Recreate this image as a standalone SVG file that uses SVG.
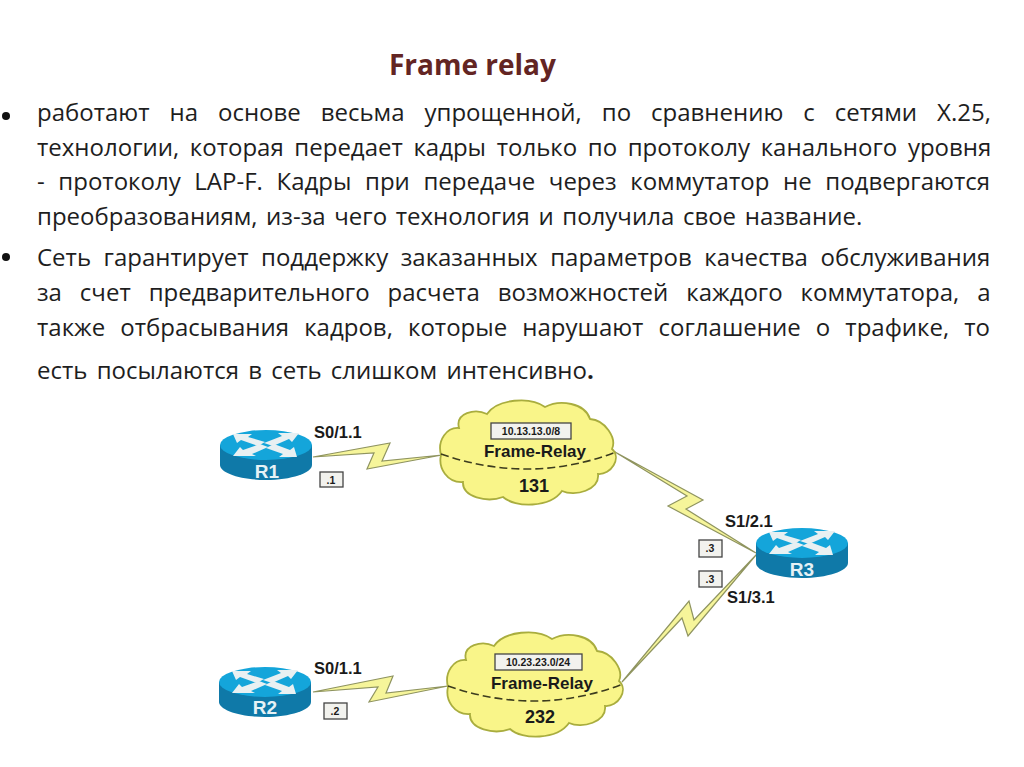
<svg xmlns="http://www.w3.org/2000/svg" xmlns:xlink="http://www.w3.org/1999/xlink" width="1024" height="767" viewBox="0 0 1024 767">
<style>
.t{font-family:"Open Sans","Noto Sans","Liberation Sans",sans-serif;font-size:24px;fill:#1e1e1e}
.h{font-family:"Open Sans","Noto Sans","Liberation Sans",sans-serif;font-size:28px;font-weight:700;fill:#632523}
.l{font-family:"Liberation Sans",Arial,sans-serif;font-weight:700;fill:#1a1a1a}
.bolt{fill:#f6f59a;stroke:#8f9460;stroke-width:1.2;stroke-linejoin:miter}
.cloud{fill:#f9f589;stroke:#a9ad3e;stroke-width:1.8}
.dash{fill:none;stroke:#3c3c1e;stroke-width:1.6;stroke-dasharray:8 4}
.box{fill:#f2f2ee;stroke:#444;stroke-width:1.3}
.top{fill:#14a5da}.side{fill:#0f79a8}
.ar{fill:#e8f0f2}
.rn{font-family:"Liberation Sans",Arial,sans-serif;font-weight:700;font-size:19px;fill:#e6f2f6;text-anchor:middle}
</style>
<defs>
<g id="rt">
<path class="side" d="M-46 0V20C-46 28-25 35 0 35S46 28 46 20V0Z"/>
<ellipse class="top" cx="0" cy="0" rx="46" ry="15"/>
<path class="ar" d="M-33-11L-14-11L-18-8L-1-3L-8 1L-25-5L-29-2Z"/>
<path class="ar" d="M33-12L26-3L23-6L7 1L-2-2L16-9L12-12Z"/>
<path class="ar" d="M-33 11L-26 2L-23 5L-6-1L2 2L-14 9L-10 11Z"/>
<path class="ar" d="M31 12L13 12L17 9L0 3L8-1L24 5L28 2Z"/>
</g>
<path id="cl" class="cloud" d="M441 455C437 440 447 427 459 428C455 413 475 408 487 414C497 399 530 396 545 407C560 399 585 403 590 419C605 420 617 438 612 449C622 458 611 475 598 474C600 490 575 497 562 491C550 508 515 508 503 497C487 503 462 497 463 482C447 483 438 468 441 455Z"/>
</defs>
<g id="text">
<text class="h" x="389" y="75">Frame relay</text>
<circle cx="6" cy="116" r="4" fill="#111"/>
<circle cx="6" cy="257" r="4" fill="#111"/>
<text class="t" x="37" y="121" word-spacing="13.7">работают на основе весьма упрощенной, по сравнению с сетями X.25,</text>
<text class="t" x="37" y="156" word-spacing="4.4">технологии, которая передает кадры только по протоколу канального уровня</text>
<text class="t" x="37" y="190" word-spacing="7.4">- протоколу LAP-F. Кадры при передаче через коммутатор не подвергаются</text>
<text class="t" x="37" y="225" word-spacing="2.4">преобразованиям, из-за чего технология и получила свое название.</text>
<text class="t" x="37" y="266" word-spacing="6.3">Сеть гарантирует поддержку заказанных параметров качества обслуживания</text>
<text class="t" x="37" y="301" word-spacing="11.7">за счет предварительного расчета возможностей каждого коммутатора, а</text>
<text class="t" x="37" y="336" word-spacing="8.9">также отбрасывания кадров, которые нарушают соглашение о трафике, то</text>
<text class="t" x="37" y="379" word-spacing="3">есть посылаются в сеть слишком интенсивно<tspan font-weight="700">.</tspan></text>
</g>
<g id="connectors">
<polygon class="bolt" points="313,457 390,443 382,461 442,455 367,469 374,453"/>
<polygon class="bolt" points="313,692 393,676 386,693 448,686 369,702 378,687"/>
<polygon class="bolt" points="615,452 703,500 686,509 756,553 668,506 687,496"/>
<polygon class="bolt" points="622,682 689,601 694,620 756,555 688,636 682,618"/>
</g>
<g id="R1"><use xlink:href="#rt" href="#rt" x="266" y="445"/><text class="rn" x="267" y="478">R1</text></g>
<g id="R2"><use xlink:href="#rt" href="#rt" x="265" y="682"/><text class="rn" x="265" y="714">R2</text></g>
<g id="R3"><use xlink:href="#rt" href="#rt" x="802" y="543"/><text class="rn" x="802" y="576">R3</text></g>
<g id="cloud131">
<use xlink:href="#cl" href="#cl"/>
<path class="dash" d="M441 454Q530 485 616 452"/>
<rect class="box" x="491" y="423" width="80" height="16"/>
<text class="l" x="531" y="435" font-size="10.5" text-anchor="middle">10.13.13.0/8</text>
<text class="l" x="535" y="457" font-size="17" text-anchor="middle">Frame-Relay</text>
<text class="l" x="534" y="492" font-size="18" text-anchor="middle">131</text>
</g>
<g id="cloud232">
<use xlink:href="#cl" href="#cl" x="7" y="232"/>
<path class="dash" d="M448 686Q537 717 623 684"/>
<rect class="box" x="495" y="654" width="87" height="16"/>
<text class="l" x="538" y="666" font-size="10.5" text-anchor="middle">10.23.23.0/24</text>
<text class="l" x="542" y="689" font-size="17" text-anchor="middle">Frame-Relay</text>
<text class="l" x="540" y="723" font-size="18" text-anchor="middle">232</text>
</g>
<g id="labels">
<text class="l" x="314" y="438" font-size="16.5">S0/1.1</text>
<text class="l" x="314" y="674" font-size="16.5">S0/1.1</text>
<text class="l" x="725" y="527" font-size="16.5">S1/2.1</text>
<text class="l" x="727" y="603" font-size="16.5">S1/3.1</text>
<rect class="box" x="320" y="472" width="23" height="15"/><text class="l" x="331" y="484" font-size="10.5" text-anchor="middle">.1</text>
<rect class="box" x="324" y="703" width="23" height="16"/><text class="l" x="335" y="715" font-size="10.5" text-anchor="middle">.2</text>
<rect class="box" x="699" y="540" width="23" height="17"/><text class="l" x="710" y="552" font-size="10.5" text-anchor="middle">.3</text>
<rect class="box" x="699" y="571" width="23" height="16"/><text class="l" x="710" y="583" font-size="10.5" text-anchor="middle">.3</text>
</g>
</svg>
